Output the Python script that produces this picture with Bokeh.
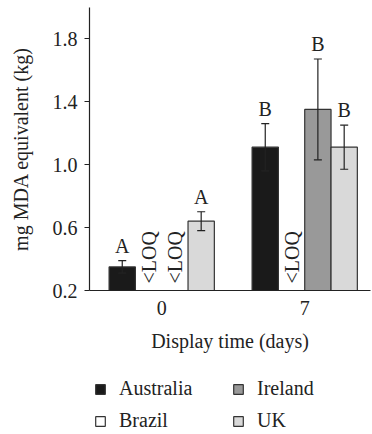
from bokeh.plotting import figure
from bokeh.layouts import column
from bokeh.models import (ColumnDataSource, Range1d, FixedTicker, NumeralTickFormatter,
                          Whisker, TeeHead, Legend, LegendItem)
from bokeh.core.properties import value
from bokeh.embed import file_html
from bokeh.resources import INLINE

# ---- data ----
days = ["0", "7"]
countries = ["Australia", "Brazil", "Ireland", "UK"]
colors = ["#1a1a1a", "#ffffff", "#999999", "#d9d9d9"]
means_day0 = [0.35, None, None, 0.64]
means_day7 = [1.11, None, 1.35, 1.11]
err_day0 = [0.04, None, None, 0.06]
err_day7 = [0.15, None, 0.32, 0.14]
letters_day0 = ["A", "", "", "A"]
letters_day7 = ["B", "", "B", "B"]
y_ticks = [0.2, 0.6, 1.0, 1.4, 1.8]

FONT = "Liberation Serif"
FS = "20px"
BW = 0.184  # bar width (group spacing = 1)
offsets = [(-1.5 + i) * BW for i in range(len(countries))]

p = figure(width=371, height=365, output_backend="svg", toolbar_location=None,
           x_range=Range1d(-0.505, 1.460), y_range=Range1d(0.2, 1.997),
           min_border_left=89, min_border_right=1, min_border_top=7, min_border_bottom=75)
p.outline_line_color = None
p.xgrid.visible = False
p.ygrid.visible = False
p.background_fill_color = None
p.border_fill_color = "white"

means = [means_day0, means_day7]
errs = [err_day0, err_day7]
lets = [letters_day0, letters_day7]

for ci, c in enumerate(countries):
    xs, tops = [], []
    for di in range(len(days)):
        m = means[di][ci]
        if m is not None:
            xs.append(di + offsets[ci])
            tops.append(m)
    src = ColumnDataSource(dict(x=xs, top=tops))
    p.vbar(x="x", top="top", bottom=0.2, width=BW, source=src,
           fill_color=colors[ci], line_color="#333333", line_width=1.2)

# error bars and significance letters, <LOQ labels
ex, eu, el, lx, ly, lt, qx = [], [], [], [], [], [], []
for di in range(len(days)):
    for ci in range(len(countries)):
        m = means[di][ci]
        x = di + offsets[ci]
        if m is None:
            qx.append(x)
            continue
        e = errs[di][ci]
        ex.append(x); eu.append(m + e); el.append(m - e)
        lx.append(x); ly.append(m + e); lt.append(lets[di][ci])

esrc = ColumnDataSource(dict(x=ex, upper=eu, lower=el))
w = Whisker(base="x", upper="upper", lower="lower", source=esrc, dimension="height",
            line_color="#222222", line_width=1.2, level="overlay",
            upper_head=TeeHead(size=8, line_color="#222222", line_width=1.2),
            lower_head=TeeHead(size=8, line_color="#222222", line_width=1.2))
p.add_layout(w)

p.text(x=lx, y=ly, text=lt, text_font=value(FONT), text_font_size=FS,
       text_align="center", text_baseline="alphabetic", y_offset=-15, text_color="#222222")
p.text(x=qx, y=[0.2] * len(qx), text=["<LOQ"] * len(qx), text_font=value(FONT),
       text_font_size=FS, text_align="left", text_baseline="middle", angle=1.5708,
       y_offset=-7, text_color="#222222")

# axes
p.yaxis.ticker = FixedTicker(ticks=y_ticks)
p.yaxis.formatter = NumeralTickFormatter(format="0.0")
p.yaxis.axis_label = "mg MDA equivalent (kg)"
p.xaxis.ticker = FixedTicker(ticks=list(range(len(days))))
p.xaxis.major_label_overrides = {i: d for i, d in enumerate(days)}
p.xaxis.axis_label = "Display time (days)"
for ax in (p.xaxis[0], p.yaxis[0]):
    ax.axis_line_color = "#222222"
    ax.axis_line_width = 1.2
    ax.major_tick_line_color = "#222222"
    ax.minor_tick_line_color = None
    ax.major_tick_in = 0
    ax.major_label_text_font = FONT
    ax.major_label_text_font_size = FS
    ax.major_label_text_color = "#222222"
    ax.axis_label_text_font = FONT
    ax.axis_label_text_font_size = FS
    ax.axis_label_text_font_style = "normal"
    ax.axis_label_text_color = "#222222"
p.yaxis.major_tick_out = 5
p.yaxis.major_label_standoff = 7
p.yaxis.axis_label_standoff = 18
p.xaxis.major_tick_out = 0
p.xaxis.major_label_standoff = 10
p.xaxis.axis_label_standoff = 12

# ---- legend strip (legend proxies sit below the strip's visible range) ----
lg = figure(width=371, height=68, output_backend="svg", toolbar_location=None,
            x_range=Range1d(0, 1), y_range=Range1d(0, 1),
            x_axis_type=None, y_axis_type=None, min_border=0)
lg.outline_line_color = None
lg.xgrid.visible = False
lg.ygrid.visible = False
lg.background_fill_color = None
items = []
for ci, c in enumerate(countries):
    r = lg.vbar(x=[0.5], top=[-2], bottom=-3, width=0.1, fill_color=colors[ci],
                line_color="#333333", line_width=1.2)
    items.append(LegendItem(label=c, renderers=[r]))
legend = Legend(items=items, ncols=2, location=(5, 1), spacing=9,
                label_width=104, label_height=22, glyph_width=12, glyph_height=12,
                label_standoff=13,
                label_text_font=FONT, label_text_font_size=FS, label_text_color="#222222",
                border_line_color=None, background_fill_alpha=0, padding=0, margin=0)
lg.add_layout(legend, "center")

layout = column(p, lg, spacing=0)
open("out.html", "w").write(file_html(layout, INLINE))
